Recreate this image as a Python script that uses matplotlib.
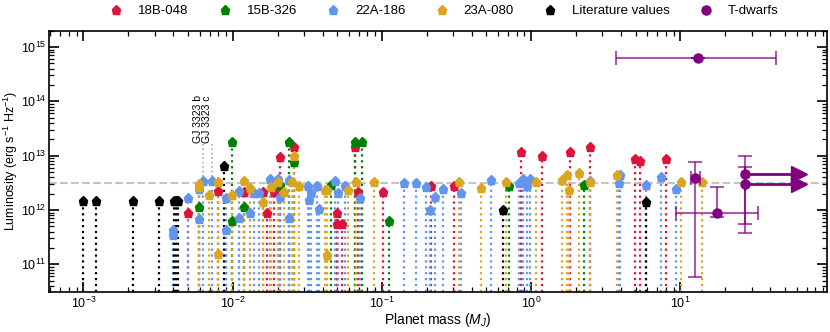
import numpy as np
import matplotlib
matplotlib.use("Agg")
import matplotlib.pyplot as plt
from matplotlib.ticker import LogLocator, NullFormatter

plt.rcParams['font.family'] = ['Liberation Sans', 'DejaVu Sans']
plt.rcParams['mathtext.fontset'] = 'custom'
plt.rcParams['mathtext.rm'] = 'Liberation Sans'
plt.rcParams['mathtext.it'] = 'Liberation Sans:italic'
plt.rcParams['mathtext.default'] = 'regular'

# ---- data: planet mass (M_J), luminosity upper limits (erg/s/Hz)
m_18B = [4.98e-3, 7.96e-3, 1.19e-2, 1.59e-2, 1.69e-2, 1.88e-2, 2.08e-2, 2.58e-2,
         4.96e-2, 4.96e-2, 5.40e-2, 6.62e-2, 6.90e-2, 0.101, 0.214, 0.302,
         0.859, 1.18, 1.83, 2.49, 4.99, 5.33, 7.96]
L_18B = [8.8e11, 2.24e12, 2.12e12, 2.12e12, 8.7e11, 2.12e12, 9.6e12, 1.47e13,
         8.7e11, 5.5e11, 5.5e11, 1.47e13, 2.14e12, 2.12e12, 2.8e12, 2.8e12,
         1.19e13, 1.0e13, 1.19e13, 1.47e13, 8.6e12, 8.1e12, 8.6e12]

m_15B = [5.96e-3, 9.88e-3, 9.88e-3, 1.19e-2, 2.08e-2, 2.38e-2, 2.58e-2, 4.57e-2,
         6.55e-2, 7.35e-2, 0.112, 0.706, 2.25]
L_15B = [1.15e12, 1.77e13, 6.3e11, 1.12e12, 2.89e12, 1.77e13, 7.7e12, 2.89e12,
         1.77e13, 1.77e13, 6.3e11, 2.8e12, 2.85e12]

m_22A = [3.97e-3, 3.97e-3, 4.98e-3, 5.96e-3, 5.96e-3, 6.31e-3, 7.26e-3, 8.95e-3,
         8.95e-3, 1.10e-2, 1.10e-2, 1.30e-2, 1.39e-2, 1.50e-2, 1.78e-2, 2.0e-2,
         2.08e-2, 2.38e-2, 2.38e-2, 3.19e-2, 3.36e-2, 3.26e-2, 3.67e-2, 3.76e-2,
         4.86e-2, 5.07e-2, 5.68e-2, 7.16e-2, 0.140, 0.169, 0.198, 0.209,
         0.225, 0.257, 0.336, 0.535, 0.824, 0.881, 0.937, 0.976,
         2.49, 3.96, 3.85, 5.90, 7.41, 9.29]
L_22A = [4.3e11, 3.5e11, 1.64e12, 6.8e11, 2.44e12, 3.47e12, 3.47e12, 1.69e12,
         4.3e11, 2.24e12, 7.0e11, 8.7e11, 2.03e12, 2.03e12, 3.67e12, 3.67e12,
         1.76e12, 3.57e12, 7.0e11, 2.8e12, 2.03e12, 1.53e12, 2.8e12, 1.04e12,
         3.47e12, 2.03e12, 2.8e12, 1.69e12, 3.18e12, 3.1e12, 2.69e12, 1.0e12,
         1.76e12, 2.44e12, 2.03e12, 3.57e12, 3.18e12, 3.67e12, 2.77e12, 3.67e12,
         3.4e12, 4.47e12, 3.18e12, 2.9e12, 4.1e12, 2.44e12]

m_23A = [5.96e-3, 5.96e-3, 6.95e-3, 7.96e-3, 7.96e-3, 9.88e-3, 1.19e-2, 1.30e-2,
         1.59e-2, 1.80e-2, 2.0e-2, 2.19e-2, 2.49e-2, 2.58e-2, 2.76e-2, 4.17e-2,
         4.28e-2, 4.28e-2, 5.92e-2, 6.69e-2, 8.79e-2, 0.328, 0.458, 0.681,
         1.08, 1.61, 1.75, 1.78, 2.08, 2.49, 3.76, 10.1, 13.9]
L_23A = [2.97e12, 2.6e12, 1.89e12, 3.32e12, 1.53e11, 1.89e12, 3.4e12, 2.58e12,
         1.39e12, 2.7e12, 3.32e12, 2.14e12, 3.24e12, 1.0e13, 2.8e12, 2.34e12,
         2.34e12, 1.48e11, 2.34e12, 3.32e12, 3.32e12, 3.24e12, 2.58e12, 3.32e12,
         3.32e12, 3.57e12, 4.47e12, 2.34e12, 4.74e12, 3.3e12, 4.47e12, 3.24e12,
         3.24e12]

m_lit = [1.0e-3, 1.21e-3, 2.16e-3, 3.23e-3, 4.07e-3, 4.17e-3, 4.27e-3, 8.77e-3, 0.65, 5.9]
L_lit = [1.45e12, 1.45e12, 1.45e12, 1.45e12, 1.45e12, 1.45e12, 1.45e12, 6.6e12, 1.0e12, 1.42e12]

# T-dwarfs: mass, lum, mass err range, lum err range
m_td = [13.1, 12.6, 17.7, 26.9, 26.9]
L_td = [6.4e14, 3.84e12, 8.8e11, 4.6e12, 3.0e12]
m_td_lo = [3.72, 11.8, 9.35, 26.9, 26.9]
m_td_hi = [43.8, 13.5, 33.1, 26.9, 26.9]
L_td_lo = [6.4e14, 5.9e10, 7.5e11, 5.6e11, 3.8e11]
L_td_hi = [6.4e14, 7.7e12, 2.62e12, 9.75e12, 6.3e12]
m_td_limit = [26.9, 26.9]     # lower limits on mass (arrows)
L_td_limit = [4.6e12, 3.0e12]
arrow_end = 62.0

gj_names = ['GJ 3323 b', 'GJ 3323 c']
gj_mass = [6.31e-3, 7.26e-3]
gj_lum = [3.47e12, 3.47e12]

L_thresh = 3.2e12
ylo, yhi = 3.1e10, 2.0e15

fig = plt.figure(figsize=(8.3, 3.32), dpi=100)
ax = fig.add_axes([0.0594, 0.1205, 0.937, 0.787])

sets = [(m_18B, L_18B, 'crimson', '18B-048'),
        (m_15B, L_15B, 'green', '15B-326'),
        (m_22A, L_22A, 'cornflowerblue', '22A-186'),
        (m_23A, L_23A, 'goldenrod', '23A-080'),
        (m_lit, L_lit, 'black', 'Literature values')]

ax.axhline(L_thresh, color='#c4c4c4', ls='--', lw=1.5, zorder=1)

for m, L, c, lab in sets:
    ax.vlines(m, ylo, L, colors=c, linestyles=':', lw=1.6, zorder=2)
for m, L, c, lab in sets:
    ax.plot(m, L, 'p', color=c, ms=6.5, mec=c, ls='none', label=lab, zorder=4)

# GJ 3323 annotations
for name, m, L in zip(gj_names, gj_mass, gj_lum):
    ax.plot([m, m], [L, 1.7e13], ls=':', color='#aaaaaa', lw=1.2, zorder=1)
    ax.text(m, 1.72e13, name, rotation=90, ha='right', va='bottom', fontsize=7.5)

# T-dwarfs
m_td = np.array(m_td)
L_td = np.array(L_td)
xerr = [m_td - np.array(m_td_lo), np.array(m_td_hi) - m_td]
yerr = [L_td - np.array(L_td_lo), np.array(L_td_hi) - L_td]
ax.errorbar(m_td, L_td, xerr=xerr, yerr=yerr, fmt='none', ecolor='purple',
            alpha=0.65, elinewidth=1.5, capsize=5, capthick=1.5, zorder=5)
for m, L in zip(m_td_limit, L_td_limit):
    ax.plot([m, arrow_end], [L, L], color='purple', lw=2, zorder=5)
    ax.plot([arrow_end], [L], '>', color='purple', ms=12, zorder=5)
ax.plot(m_td, L_td, 'o', color='purple', ms=6.5, ls='none', label='T-dwarfs', zorder=6)

ax.set_xscale('log')
ax.set_yscale('log')
ax.set_xlim(5.9e-4, 96)
ax.set_ylim(ylo, yhi)
for axis in (ax.xaxis, ax.yaxis):
    axis.set_major_locator(LogLocator(base=10, numticks=20))
    axis.set_minor_locator(LogLocator(base=10, subs=np.arange(2, 10), numticks=100))
    axis.set_minor_formatter(NullFormatter())
ax.tick_params(which='both', direction='in', top=True, right=True, labelsize=9, pad=3)
ax.tick_params(axis='y', which='both', pad=2)
ax.tick_params(which='major', length=7, width=1.2)
ax.tick_params(which='minor', length=3.5, width=0.9)
for s in ax.spines.values():
    s.set_linewidth(1.2)

ax.set_xlabel('Planet mass ($\\mathit{M_J}$)', fontsize=10, labelpad=0)
ax.set_ylabel('Luminosity (erg s$^{-1}$ Hz$^{-1}$)', fontsize=9)
ax.yaxis.set_label_coords(-0.038, 0.5)

fig.legend(loc='upper left', bbox_to_anchor=(0.110, 1.02), ncol=6, frameon=False,
           fontsize=9.5, columnspacing=1.75, handletextpad=0.65, markerscale=1.0)

fig.savefig('out.png', dpi=100)
